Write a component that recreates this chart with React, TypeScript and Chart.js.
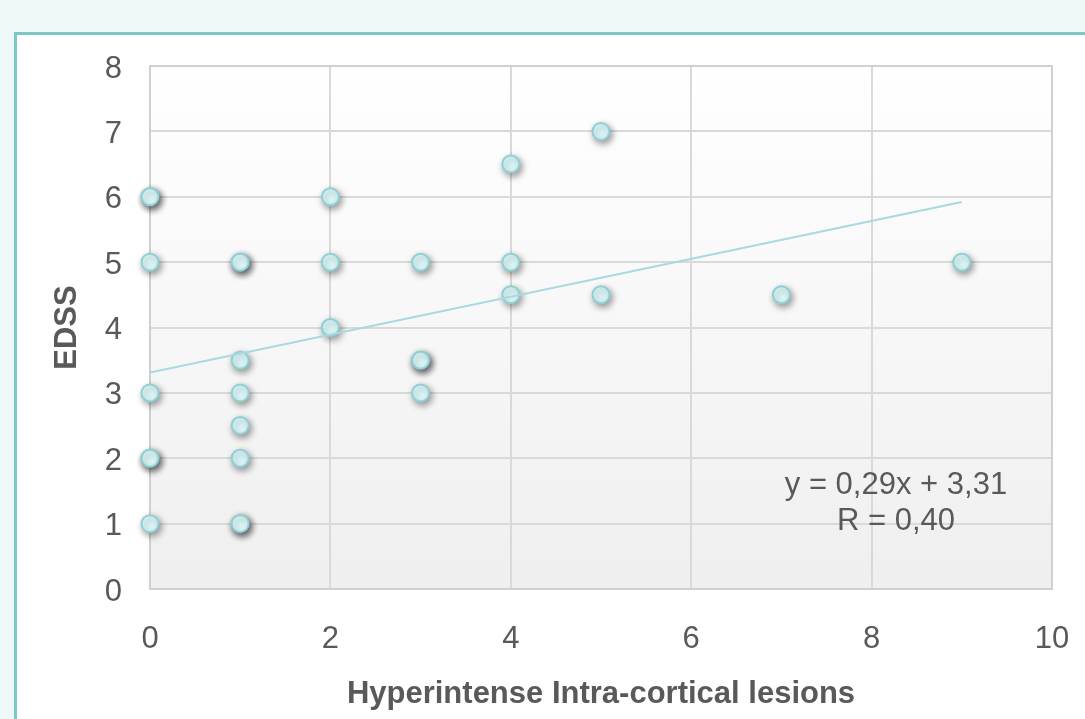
import React, { useEffect, useRef } from "react";
import { Chart, registerables } from "chart.js";

Chart.register(...registerables);

const lesionsX: number[] = [0, 0, 0, 0, 0, 0, 0, 1, 1, 1, 1, 1, 1, 1, 1, 2, 2, 2, 3, 3, 3, 3, 4, 4, 4, 5, 5, 7, 9];
const edssY: number[] = [6, 6, 5, 3, 2, 2, 1, 5, 5, 3.5, 3, 2.5, 2, 1, 1, 6, 5, 4, 5, 3.5, 3.5, 3, 6.5, 5, 4.5, 7, 4.5, 4.5, 5];
const trendSlope = 0.29;
const trendIntercept = 3.31;
const trendXRange: number[] = [0, 9];
const xTicks: number[] = [0, 2, 4, 6, 8, 10];
const yTicks: number[] = [0, 1, 2, 3, 4, 5, 6, 7, 8];
const equationLines: string[] = ["y = 0,29x + 3,31", "R = 0,40"];
const equationAnchor = { x: 8.27, y: 1.58 };
const xTitle = "Hyperintense Intra-cortical lesions";
const yTitle = "EDSS";

const FONT = "'Liberation Sans', Arial, sans-serif";

export default function App() {
  const canvasRef = useRef<HTMLCanvasElement | null>(null);

  useEffect(() => {
    document.body.style.margin = "0";
    const canvas = canvasRef.current;
    if (!canvas) return;

    const bgPlugin = {
      id: "plotBg",
      beforeDraw(chart: any) {
        const { ctx, chartArea } = chart;
        if (!chartArea) return;
        const g = ctx.createLinearGradient(0, chartArea.top, 0, chartArea.bottom);
        g.addColorStop(0, "#ffffff");
        g.addColorStop(1, "#efefef");
        ctx.save();
        ctx.fillStyle = g;
        ctx.fillRect(chartArea.left, chartArea.top, chartArea.right - chartArea.left, chartArea.bottom - chartArea.top);
        ctx.restore();
      },
      beforeDatasetsDraw(chart: any) {
        const { ctx, chartArea } = chart;
        ctx.save();
        ctx.strokeStyle = "#d0d0d0";
        ctx.lineWidth = 2;
        ctx.strokeRect(chartArea.left, chartArea.top, chartArea.right - chartArea.left, chartArea.bottom - chartArea.top);
        ctx.restore();
      },
      afterDraw(chart: any) {
        const { ctx, scales } = chart;
        ctx.save();
        ctx.font = `31px ${FONT}`;
        ctx.fillStyle = "#595959";
        ctx.textAlign = "center";
        ctx.textBaseline = "middle";
        const cx = scales.x.getPixelForValue(equationAnchor.x);
        const cy = scales.y.getPixelForValue(equationAnchor.y);
        equationLines.forEach((t, i) => {
          ctx.fillText(t, cx, cy + i * 36);
        });
        ctx.restore();
      },
      beforeDatasetDraw(chart: any, args: any) {
        if (args.index === 1) {
          const ctx = chart.ctx;
          ctx.save();
          ctx.shadowColor = "rgba(0,0,0,0.4)";
          ctx.shadowBlur = 7;
          ctx.shadowOffsetX = 2;
          ctx.shadowOffsetY = 3;
        }
      },
      afterDatasetDraw(chart: any, args: any) {
        if (args.index === 1) chart.ctx.restore();
      },
    };

    const points = lesionsX.map((x, i) => ({ x, y: edssY[i] }));
    const trend = trendXRange.map((x) => ({ x, y: trendSlope * x + trendIntercept }));

    const chart = new Chart(canvas, {
      type: "scatter",
      data: {
        datasets: [
          {
            type: "line",
            data: trend,
            borderColor: "#a8d9e0",
            borderWidth: 2,
            pointRadius: 0,
            fill: false,
          } as any,
          {
            data: points,
            backgroundColor: "#e0fbfc",
            borderColor: "#8fd0d4",
            borderWidth: 2,
            pointRadius: 8.5,
            clip: false,
          } as any,
        ],
      },
      plugins: [bgPlugin],
      options: {
        animation: false,
        responsive: false,
        layout: { padding: { top: 66, right: 33, left: 0, bottom: 0 } },
        plugins: { legend: { display: false }, tooltip: { enabled: false } },
        scales: {
          x: {
            type: "linear",
            min: 0,
            max: 10,
            afterBuildTicks: (s: any) => {
              s.ticks = xTicks.map((v) => ({ value: v }));
            },
            afterFit: (s: any) => {
              s.height = 130;
              s.paddingLeft = 0;
              s.paddingRight = 0;
            },
            grid: { color: "#d9d9d9", lineWidth: 2, drawTicks: false },
            border: { display: false },
            ticks: { color: "#595959", font: { size: 31, family: FONT }, padding: 32 },
            title: {
              display: true,
              text: xTitle,
              color: "#595959",
              font: { size: 31, weight: "bold", family: FONT },
              padding: { top: 0, bottom: 6 },
            },
          },
          y: {
            type: "linear",
            min: 0,
            max: 8,
            afterBuildTicks: (s: any) => {
              s.ticks = yTicks.map((v) => ({ value: v }));
            },
            afterFit: (s: any) => {
              s.width = 150;
              s.paddingTop = 0;
              s.paddingBottom = 0;
            },
            grid: { color: "#d9d9d9", lineWidth: 2, drawTicks: false },
            border: { display: false },
            ticks: { color: "#595959", font: { size: 31, family: FONT }, padding: 28, labelOffset: 3 },
            title: {
              display: true,
              text: yTitle,
              color: "#595959",
              font: { size: 31, weight: "bold", family: FONT },
              padding: { top: 49, bottom: 0 },
            },
          },
        },
      },
    });
    return () => chart.destroy();
  }, []);

  return (
    <div style={{ position: "relative", width: 1085, height: 719, background: "#eef8f7", overflow: "hidden" }}>
      <div
        style={{
          position: "absolute",
          left: 14,
          top: 32,
          width: 1200,
          height: 800,
          background: "#ffffff",
          border: "3px solid #7dc7c7",
        }}
      />
      <canvas ref={canvasRef} width={1085} height={719} style={{ position: "absolute", left: 0, top: 0 }} />
    </div>
  );
}
